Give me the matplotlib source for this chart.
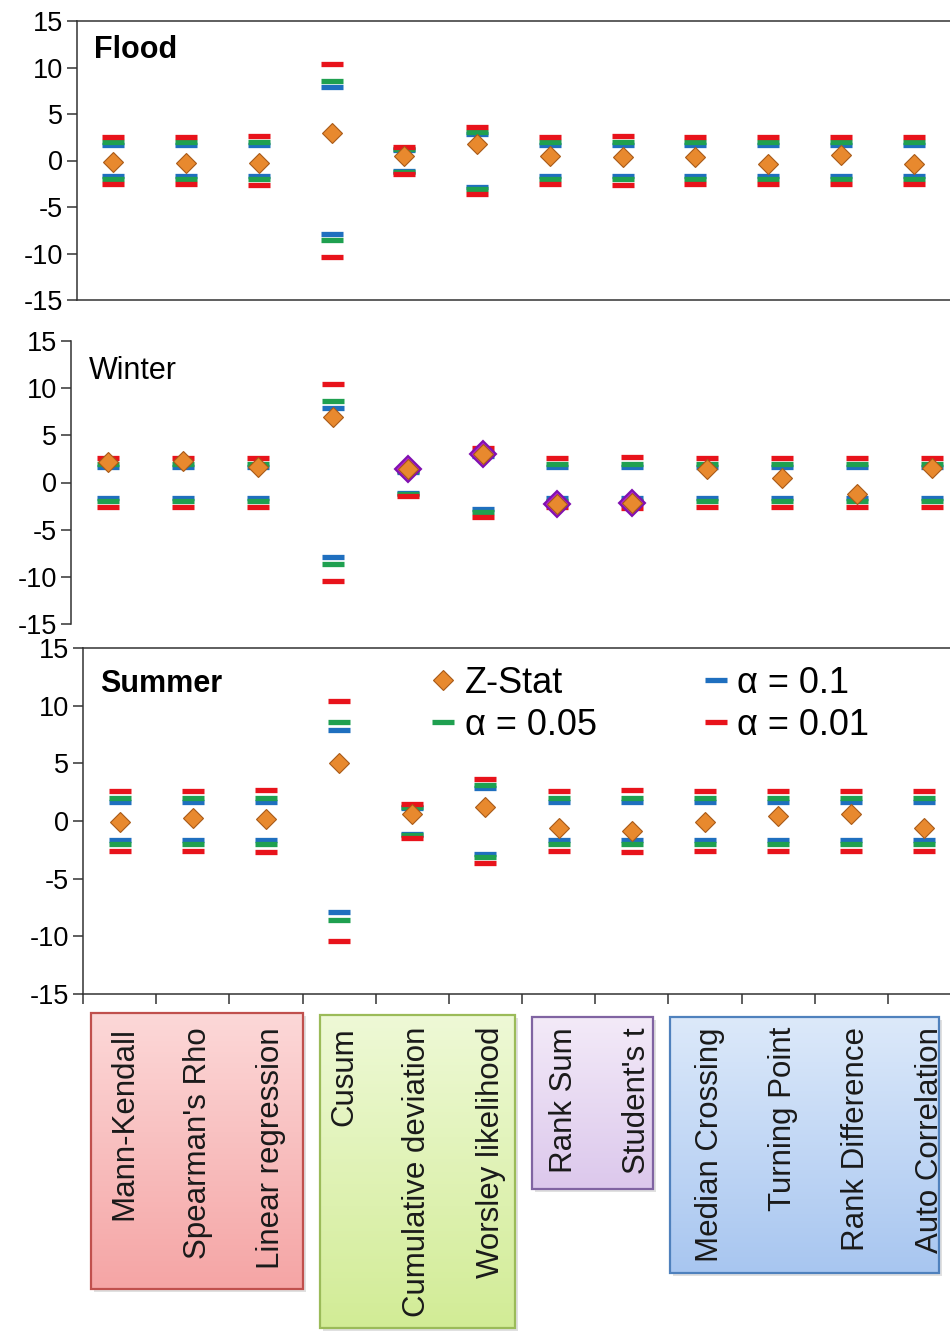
import numpy as np
import matplotlib
matplotlib.use("Agg")
import matplotlib.pyplot as plt
from matplotlib.lines import Line2D
from matplotlib.patches import Rectangle
from matplotlib.colors import to_rgb

plt.rcParams['font.family'] = ['Liberation Sans', 'DejaVu Sans']
plt.rcParams['axes.unicode_minus'] = False

# Données
categories = ['Mann-Kendall', "Spearman's Rho", 'Linear regression', 'Cusum',
              'Cumulative deviation', 'Worsley likelihood', 'Rank Sum', "Student's t",
              'Median Crossing', 'Turning Point', 'Rank Difference', 'Auto Correlation']

crit_10 = [1.645, 1.645, 1.67, 7.9, 1.1, 2.85, 1.645, 1.66, 1.645, 1.645, 1.645, 1.645]
crit_05 = [1.96, 1.96, 2.0, 8.6, 1.22, 3.1, 1.96, 2.0, 1.96, 1.96, 1.96, 1.96]
crit_01 = [2.576, 2.576, 2.65, 10.4, 1.45, 3.65, 2.576, 2.66, 2.576, 2.576, 2.576, 2.576]

flood_z = [-0.2, -0.25, -0.25, 3.0, 0.5, 1.75, 0.45, 0.4, 0.4, -0.35, 0.55, -0.4]
winter_z = [2.2, 2.3, 1.6, 6.9, 1.45, 3.0, -2.25, -2.2, 1.45, 0.45, -1.25, 1.55]
summer_z = [-0.05, 0.25, 0.2, 5.0, 0.6, 1.25, -0.6, -0.85, -0.05, 0.45, 0.65, -0.65]
winter_sig = [False, False, False, False, True, True, True, True, False, False, False, False]

# Couleurs
c_blue, c_green, c_red = '#1F6FBF', '#1FA050', '#E8131B'
c_orange, c_orange_edge = '#E8892E', '#A85A18'

W, H = 950, 1340
fig = plt.figure(figsize=(W / 100, H / 100), dpi=100)

x = np.arange(len(categories))
DASH_MS, DASH_MEW = 16, 3.8
DIA_MS = 10.5


def draw_panel(rect, z, title, weight, spines, sig=None):
    ax = fig.add_axes(rect)
    for name, sp in ax.spines.items():
        sp.set_visible(name in spines)
        sp.set_color('#333333')
        sp.set_linewidth(1.1)
    for crit, col in [(crit_10, c_blue), (crit_05, c_green), (crit_01, c_red)]:
        c = np.array(crit)
        ax.plot(x, c, ls='none', marker='_', ms=DASH_MS, mew=DASH_MEW, color=col, zorder=3)
        ax.plot(x, -c, ls='none', marker='_', ms=DASH_MS, mew=DASH_MEW, color=col, zorder=3)
    z = np.array(z)
    if sig is not None:
        s = np.array(sig)
        ax.plot(x[s], z[s], ls='none', marker='D', ms=DIA_MS + 2.5, mfc='#B020D0',
                mec='#8010B0', mew=1.5, zorder=4)
    ax.plot(x, z, ls='none', marker='D', ms=DIA_MS, mfc=c_orange,
            mec=c_orange_edge, mew=0.8, zorder=5)
    ax.set_xlim(-0.5, len(categories) - 0.5)
    ax.set_ylim(-15, 15)
    ax.set_yticks(np.arange(-15, 16, 5))
    ax.tick_params(axis='y', direction='out', length=7, width=1.1,
                   labelsize=19.5, pad=3, colors='#333333', labelcolor='black')
    ax.set_xticks([])
    ax.text(0.02, 0.895, title, transform=ax.transAxes, fontsize=22,
            fontweight=weight, va='center', ha='left')
    ax.patch.set_alpha(0)
    return ax


ax_f = draw_panel([77 / W, 1 - 300 / H, 873 / W, 279 / H], flood_z, 'Flood', 'bold',
                  ['left', 'top', 'bottom'])
ax_w = draw_panel([71 / W, 1 - 624 / H, 898 / W, 283 / H], winter_z, 'Winter', 'normal',
                  ['left'], sig=winter_sig)
ax_s = draw_panel([83 / W, 1 - 994 / H, 878 / W, 346 / H], summer_z, 'Summer', 'bold',
                  ['left', 'top', 'bottom'])

# ticks du bas (séparateurs)
ax_s.set_xticks(np.arange(-0.5, len(categories), 1))
ax_s.set_xticklabels([])
ax_s.tick_params(axis='x', direction='out', length=7, width=1.1, colors='#333333')

# Légende
handles = [
    Line2D([], [], ls='none', marker='D', ms=DIA_MS, mfc=c_orange, mec=c_orange_edge, mew=0.8),
    Line2D([], [], ls='none', marker='_', ms=DASH_MS, mew=DASH_MEW, color=c_green),
    Line2D([], [], ls='none', marker='_', ms=DASH_MS, mew=DASH_MEW, color=c_blue),
    Line2D([], [], ls='none', marker='_', ms=DASH_MS, mew=DASH_MEW, color=c_red),
]
labels = ['Z-Stat', 'α = 0.05', 'α = 0.1', 'α = 0.01']
ax_s.legend(handles, labels, ncol=2, loc='upper left', bbox_to_anchor=(0.375, 1.0),
            frameon=False, fontsize=26, handlelength=0.7, handletextpad=0.25,
            columnspacing=2.95, labelspacing=0.18, borderaxespad=0.1)

# Boîtes de catégories (en pixels)
ov = fig.add_axes([0, 0, 1, 1])
ov.axis('off')
ov.patch.set_alpha(0)

box_xrange = [(-0.39, 2.5), (2.74, 5.4), (5.63, 7.29), (7.52, 11.2)]
box_top = [1013, 1015, 1017, 1017]
box_bottom = [1289, 1328, 1189, 1273]
box_colors = [('#FCD8D8', '#F5A5A5', '#C0504D'),
              ('#EEF9D6', '#D2EC96', '#9BBB59'),
              ('#F3EAF8', '#DCC8EC', '#8064A2'),
              ('#DCE9FA', '#A8C6F0', '#4F81BD')]


def to_px(xd):
    return ax_s.transData.transform((xd, 0))[0]


for (xa, xb), top, bot, (ct, cb, ce) in zip(box_xrange, box_top, box_bottom, box_colors):
    x0, x1 = to_px(xa), to_px(xb)
    y0, y1 = H - bot, H - top
    ov.add_patch(Rectangle((x0 + 3, y0 - 3), x1 - x0, y1 - y0, fc='#000000',
                           alpha=0.12, ec='none', zorder=1))
    t = np.linspace(0, 1, 100)[:, None]
    grad = (1 - t)[..., None] * np.array(to_rgb(cb)) + t[..., None] * np.array(to_rgb(ct))
    grad = np.repeat(grad, 2, axis=1)
    im = ov.imshow(grad, extent=(x0, x1, y0, y1), origin='lower', aspect='auto', zorder=2)
    r = Rectangle((x0, y0), x1 - x0, y1 - y0, fc='none', ec=ce, lw=1.6, zorder=3)
    ov.add_patch(r)
    im.set_clip_path(r)

ov.set_xlim(0, W)
ov.set_ylim(0, H)

for i, name in enumerate(categories):
    ov.text(to_px(i + 0.07), H - 1027, name, rotation=90, ha='center', va='top',
            fontsize=22.5, color='#1a1a1a', zorder=4)

fig.savefig('out.png', dpi=100)
